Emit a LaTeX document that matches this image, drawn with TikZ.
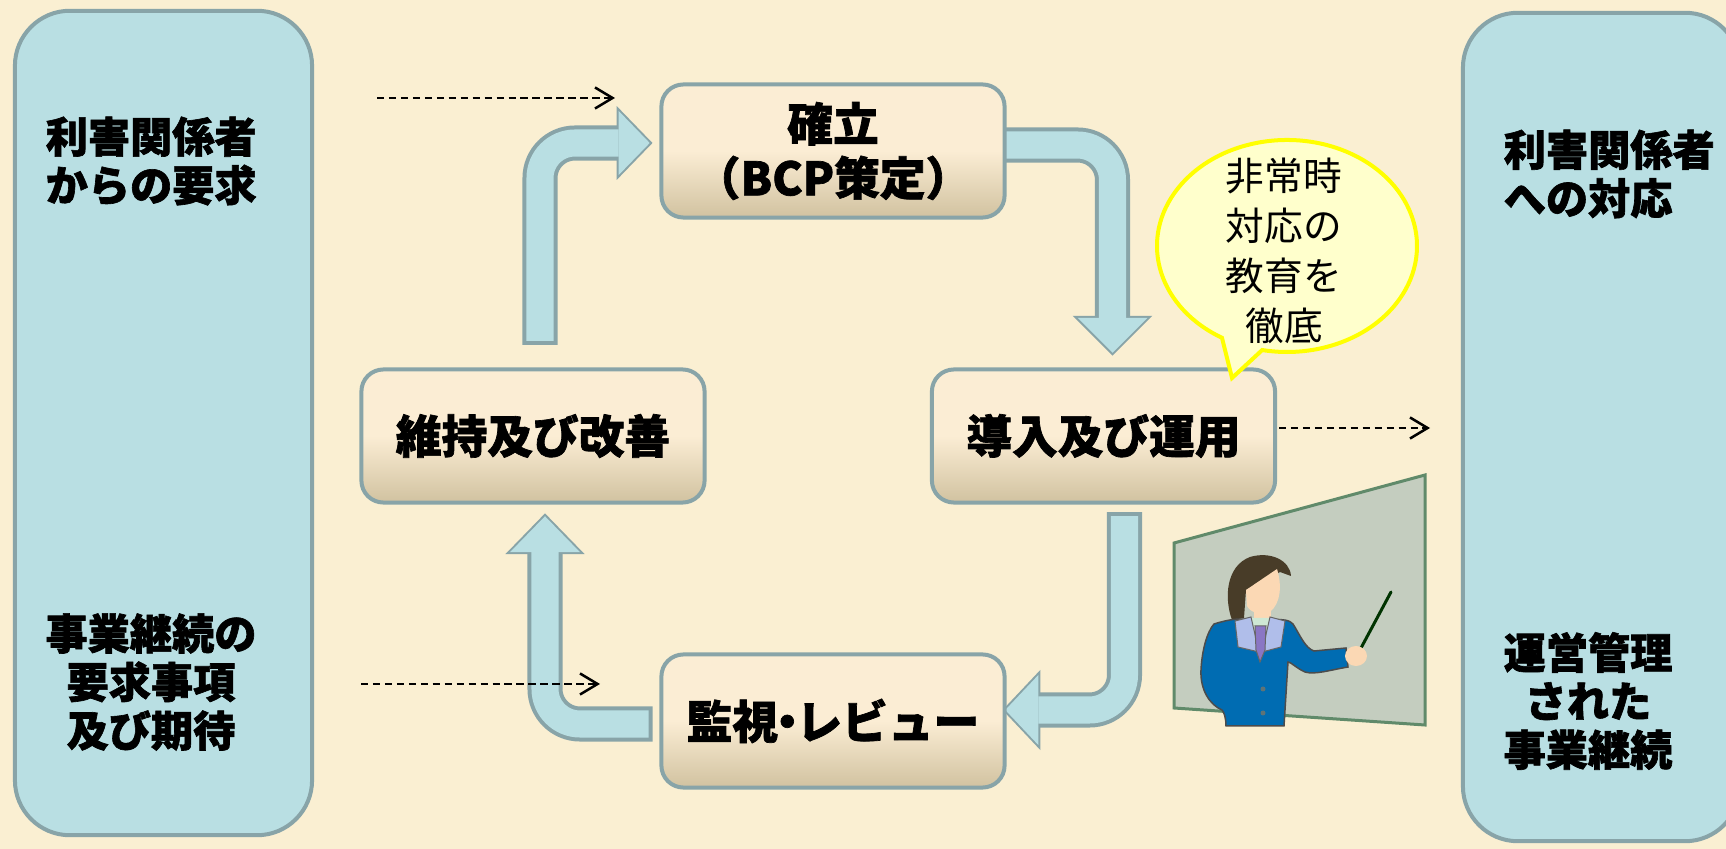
\documentclass[tikz,border=0pt]{standalone}
\usepackage{fontspec}
\newfontfamily\jpfont{Noto Sans CJK JP}[BoldFeatures={FakeBold=1.5}]
\usetikzlibrary{arrows.meta}

\definecolor{bgpaper}{RGB}{250,239,210}
\definecolor{pale}{RGB}{185,223,227}
\definecolor{rimcol}{RGB}{136,164,168}
\definecolor{cream}{RGB}{251,237,212}
\definecolor{boxtan}{RGB}{209,194,160}
\definecolor{memofill}{RGB}{255,255,204}
\definecolor{memorim}{RGB}{255,255,0}
\definecolor{boardcol}{RGB}{196,205,191}
\definecolor{boardrim}{RGB}{96,138,106}
\definecolor{haircol}{RGB}{72,60,40}
\definecolor{skincol}{RGB}{251,216,180}
\definecolor{suitcol}{RGB}{0,108,178}
\definecolor{collarcol}{RGB}{176,190,234}
\definecolor{shirtcol}{RGB}{206,232,212}
\definecolor{tiecol}{RGB}{138,118,196}

\newcommand\stagefont{\jpfont\bfseries\fontsize{13}{15.4}\selectfont}
\newcommand\sidefont{\jpfont\bfseries\fontsize{12}{13.8}\selectfont}
\newcommand\memofont{\jpfont\fontsize{11}{14.2}\selectfont}

% block arrow: rim first, then body on top
\newcommand\flowarrow[2]{%
  \draw[flowrim] #1;
  \draw[headrim] #2 -- cycle;
  \draw[flowbody] #1;
  \fill[headbody] #2 -- cycle;}

\begin{document}
\begin{tikzpicture}[x=0.01cm,y=-0.01cm,
    every node/.style={inner sep=0pt},
    panel/.style={draw=rimcol,fill=pale,line width=0.04cm,rounded corners=0.55cm},
    stage/.style={draw=rimcol,line width=0.04cm,rounded corners=0.22cm,
      top color=cream,bottom color=boxtan,middle color=cream,
      minimum width=3.43cm,minimum height=1.33cm,align=center,font=\stagefont},
    side/.style={font=\sidefont},
    flowrim/.style={draw=rimcol,line width=0.35cm,rounded corners=0.35cm,shorten <=-0.04cm},
    flowbody/.style={draw=pale,line width=0.27cm,rounded corners=0.35cm},
    headrim/.style={draw=rimcol,line width=0.04cm},
    headbody/.style={fill=pale},
    feed/.style={line width=0.025cm,dash pattern=on 2.1pt off 1.3pt,
      -{Straight Barb[length=5pt,width=6pt]}}]
\useasboundingbox (0,0) rectangle (1726,849);
\clip (0,0) rectangle (1726,849);
\fill[bgpaper] (0,0) rectangle (1726,849);

% side panels
\node[panel,minimum width=2.97cm,minimum height=8.24cm] (lpanel) at (163.5,423) {};
\node[panel,minimum width=2.77cm,minimum height=8.28cm] (rpanel) at (1601.5,427) {};
\node[side,align=left,anchor=west] (lreq) at (45,161) {利害関係者\\からの要求};
\node[side,align=center] (lexp) at (151,682) {事業継続の\\要求事項\\及び期待};
\node[side,align=left,anchor=west] (rresp) at (1503,174) {利害関係者\\への対応};
\node[side,align=center] (rbiz) at (1588,701) {運営管理\\された\\事業継続};

% stage positions
\coordinate (cplan) at (833,151);
\coordinate (crun) at (1103.5,436);
\coordinate (ccheck) at (833,721);
\coordinate (cact) at (533,436);
\path (cplan) node[minimum width=3.43cm,minimum height=1.33cm] (plan) {}
      (crun) node[minimum width=3.43cm,minimum height=1.33cm] (run) {}
      (ccheck) node[minimum width=3.43cm,minimum height=1.33cm] (check) {}
      (cact) node[minimum width=3.43cm,minimum height=1.33cm] (act) {};

% cycle arrows
\coordinate (a1s) at ([shift={(7,-28)}]act.north);
\coordinate (a1t) at ([shift={(-11,-8)}]plan.west);
\coordinate (a2s) at ([shift={(-7,-6)}]plan.east);
\coordinate (a2t) at ([shift={(9,-16)}]run.north);
\coordinate (a3s) at ([shift={(21,13)}]run.south);
\coordinate (a3t) at ([shift={(0,-11)}]check.east);
\coordinate (a4s) at ([shift={(-12,3)}]check.west);
\coordinate (a4t) at ([shift={(12,13)}]act.south);
\flowarrow{(a1s) -- (a1s |- a1t) -- ([shift={(-31,0)}]a1t)}
  {([shift={(-31,-32)}]a1t) -- (a1t) -- ([shift={(-31,32)}]a1t)}
\flowarrow{(a2s) -- (a2s -| a2t) -- ([shift={(0,-35)}]a2t)}
  {([shift={(-35,-35)}]a2t) -- (a2t) -- ([shift={(35,-35)}]a2t)}
\flowarrow{(a3s) -- (a3s |- a3t) -- ([shift={(33,0)}]a3t)}
  {([shift={(33,-35)}]a3t) -- (a3t) -- ([shift={(33,35)}]a3t)}
\flowarrow{(a4s) -- (a4s -| a4t) -- ([shift={(0,36)}]a4t)}
  {([shift={(-35,36)}]a4t) -- (a4t) -- ([shift={(35,36)}]a4t)}

% stages
\node[stage] at (plan) {確立\\（BCP策定）};
\node[stage] at (run) {導入及び運用};
\node[stage] at (check) {監視\kern-0.3em・\kern-0.3emレビュー};
\node[stage] at (act) {維持及び改善};

% inputs and output
\coordinate (in1) at (377,98);
\coordinate (in1e) at (615,98);
\coordinate (in2) at (361,684);
\coordinate (in2e) at (600,684);
\coordinate (out1) at (1279,428);
\coordinate (out1e) at (1430,428);
\draw[feed] (in1) -- (in1e);
\draw[feed] (in2) -- (in2e);
\draw[feed] (out1) -- (out1e);

% speech bubble
\coordinate (bc) at (1287,246);
\filldraw[fill=memofill,draw=memorim,line width=0.04cm]
  ([shift={(120:130 and 106)}]bc) arc[start angle=120,end angle=461,x radius=130,y radius=106]
  -- ([shift={(-55,132)}]bc) -- cycle;
\node[font=\memofont,align=center] (memo) at (1284,251) {非常時\\対応の\\教育を\\徹底};

% teacher at the board
\filldraw[fill=boardcol,draw=boardrim,line width=0.03cm]
  (1174,543) -- (1425,475) -- (1425,725) -- (1174,708) -- cycle;
\draw[line width=0.03cm,line cap=round,draw=black!80!green] (1361,648) -- (1391,592);
\fill[haircol] (1232,620) .. controls (1224,598) and (1226,566) .. (1250,557)
  .. controls (1270,551) and (1290,560) .. (1291,576) -- (1280,572) -- (1246,590) -- (1244,618) -- cycle;
\fill[skincol] (1246,590) -- (1277,569) .. controls (1282,585) and (1281,603) .. (1270,612)
  .. controls (1260,616) and (1250,612) .. (1247,606) -- cycle;
\fill[skincol] (1254,604) rectangle (1271,624);
\filldraw[fill=suitcol,draw=black!70,line width=0.015cm]
  (1214,624) .. controls (1230,619) and (1240,618) .. (1250,620) -- (1272,620)
  .. controls (1282,619) and (1290,620) .. (1293,624)
  .. controls (1300,635) and (1305,648) .. (1314,651) -- (1346,648) -- (1348,667)
  .. controls (1330,670) and (1315,675) .. (1305,672)
  .. controls (1296,668) and (1291,662) .. (1288,662) -- (1284,726) -- (1226,726)
  .. controls (1226,718) and (1224,712) .. (1222,710)
  .. controls (1210,705) and (1200,690) .. (1201,670)
  .. controls (1202,650) and (1207,632) .. (1214,624) -- cycle;
\fill[shirtcol] (1246,618) -- (1274,618) -- (1260,645) -- cycle;
\filldraw[fill=collarcol,draw=black!60,line width=0.01cm] (1235,621) -- (1251,617) -- (1259,652) -- (1238,647) -- cycle;
\filldraw[fill=collarcol,draw=black!60,line width=0.01cm] (1285,621) -- (1270,617) -- (1262,652) -- (1281,647) -- cycle;
\filldraw[fill=tiecol,draw=black!60,line width=0.01cm] (1255,626) -- (1266,626) -- (1265,650) -- (1260,662) -- (1256,650) -- cycle;
\fill[black!30!rimcol] (1263,689) circle (2.5) (1263,713) circle (2.5);
\fill[skincol] (1356,656) ellipse [x radius=11,y radius=10];
\end{tikzpicture}
\end{document}
